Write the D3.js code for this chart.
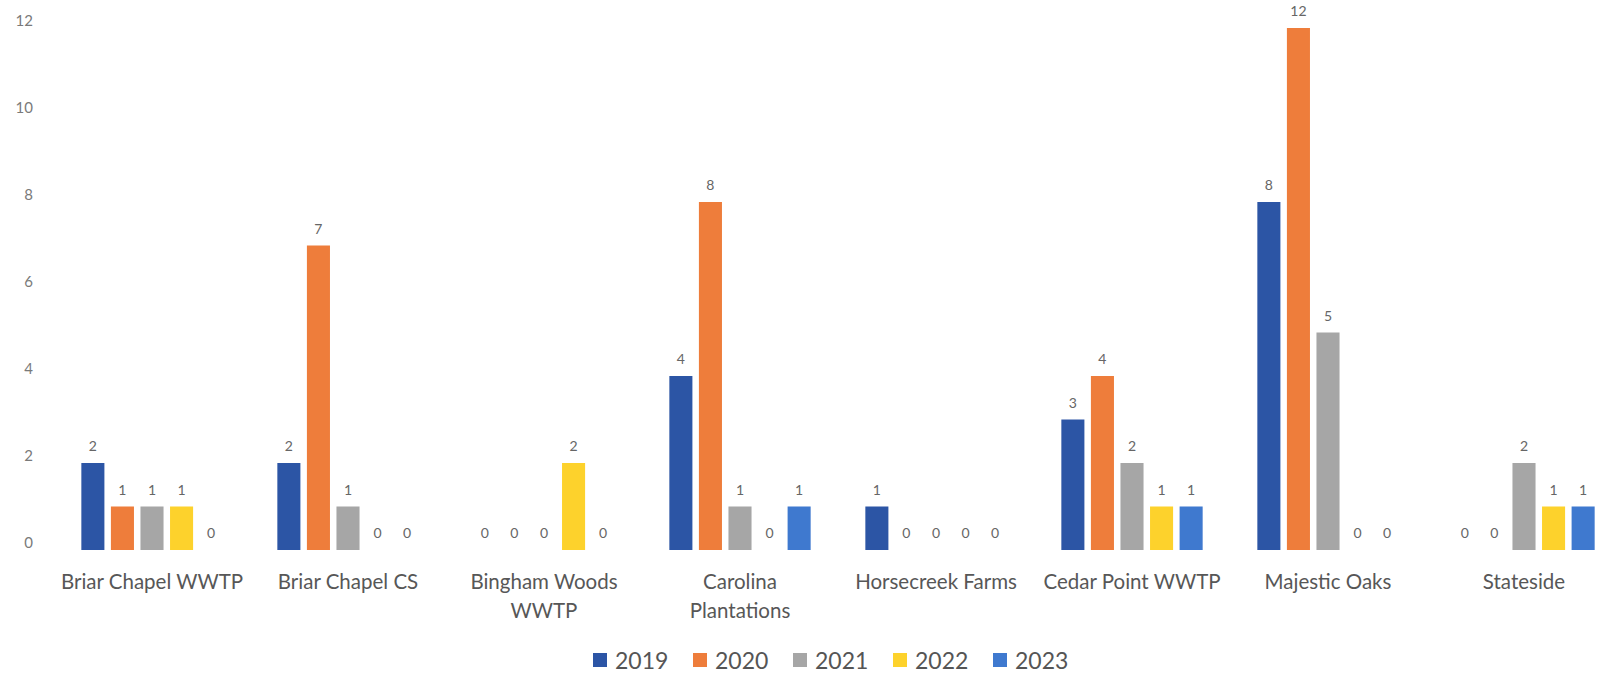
<!DOCTYPE html>
<html>
<head>
<meta charset="utf-8">
<script src="https://cdn.jsdelivr.net/npm/d3@7"></script>
<style>
    body { margin: 0; background: #fff; }
    svg { display: block; font-family: Lato, 'Open Sans', sans-serif; }
</style>
</head>
<body>
<svg id="chart" width="1607" height="679"></svg>
<script>
'use strict';
// Chart values
var categories = ['Briar Chapel WWTP', 'Briar Chapel CS', 'Bingham Woods WWTP', 'Carolina Plantations',
    'Horsecreek Farms', 'Cedar Point WWTP', 'Majestic Oaks', 'Stateside'];
var categoryLines = [['Briar Chapel WWTP'], ['Briar Chapel CS'], ['Bingham Woods', 'WWTP'], ['Carolina', 'Plantations'],
    ['Horsecreek Farms'], ['Cedar Point WWTP'], ['Majestic Oaks'], ['Stateside']];
var years = ['2019', '2020', '2021', '2022', '2023'];
var values2019 = [2, 2, 0, 4, 1, 3, 8, 0];
var values2020 = [1, 7, 0, 8, 0, 4, 12, 0];
var values2021 = [1, 1, 0, 1, 0, 2, 5, 2];
var values2022 = [1, 0, 2, 0, 0, 1, 0, 1];
var values2023 = [0, 0, 0, 1, 0, 1, 0, 1];
var yTicks = [0, 2, 4, 6, 8, 10, 12];

var seriesValues = [values2019, values2020, values2021, values2022, values2023];
var colors = ['#2c55a5', '#ee7d3b', '#a6a6a6', '#fdd22c', '#3f79cf'];

var svg = d3.select('#chart');

// Scales: outer band for sites, inner band for years
var x0 = d3.scaleBand()
    .domain(categories)
    .range([54, 1622])
    .paddingInner(0.279)
    .paddingOuter(0.1395);
var x1 = d3.scaleBand()
    .domain(years)
    .range([0, x0.bandwidth()])
    .paddingInner(0.22);
var y = d3.scaleLinear()
    .domain([0, 12])
    .range([550, 28]);

// Y axis labels only (no line, no gridlines)
var yAxis = d3.axisLeft(y).tickValues(yTicks).tickSize(0).tickPadding(0);
var yg = svg.append('g')
    .attr('transform', 'translate(33,-7)')
    .call(yAxis);
yg.select('.domain').remove();
yg.selectAll('text')
    .style('font-family', "Lato, 'Open Sans', sans-serif")
    .style('font-size', '15px')
    .style('fill', '#7a7a7a');

// Build rows per site
var rows = categories.map(function(c, i) {
    return {
        site: c,
        lines: categoryLines[i],
        bars: years.map(function(yr, j) { return { year: yr, value: seriesValues[j][i], color: colors[j] }; })
    };
});

var groups = svg.selectAll('g.site')
    .data(rows)
    .enter().append('g')
    .attr('class', 'site')
    .attr('transform', function(d) { return 'translate(' + x0(d.site) + ',0)'; });

groups.selectAll('rect')
    .data(function(d) { return d.bars.filter(function(b) { return b.value > 0; }); })
    .enter().append('rect')
    .attr('x', function(b) { return x1(b.year); })
    .attr('y', function(b) { return y(b.value); })
    .attr('width', x1.bandwidth())
    .attr('height', function(b) { return y(0) - y(b.value); })
    .attr('fill', function(b) { return b.color; });

// Data labels above each bar (zeros sit just above the baseline)
groups.selectAll('text.val')
    .data(function(d) { return d.bars; })
    .enter().append('text')
    .attr('class', 'val')
    .attr('x', function(b) { return x1(b.year) + x1.bandwidth() / 2; })
    .attr('y', function(b) { return y(b.value) - 12; })
    .attr('text-anchor', 'middle')
    .style('font-size', '14px')
    .style('fill', '#666')
    .text(function(b) { return b.value; });

// Category labels, wrapped like the original
groups.append('text')
    .attr('class', 'cat')
    .attr('text-anchor', 'middle')
    .style('font-size', '20.5px')
    .style('fill', '#575757')
    .selectAll('tspan')
    .data(function(d) { return d.lines; })
    .enter().append('tspan')
    .attr('x', x0.bandwidth() / 2)
    .attr('y', function(l, i) { return 589 + i * 29; })
    .text(function(l) { return l; });

// Legend
var legend = svg.append('g').attr('class', 'legend');
var items = legend.selectAll('g')
    .data(years)
    .enter().append('g')
    .attr('transform', function(d, i) { return 'translate(' + (593 + i * 100) + ',0)'; });
items.append('rect')
    .attr('y', 653)
    .attr('width', 14)
    .attr('height', 14)
    .attr('fill', function(d, i) { return colors[i]; });
items.append('text')
    .attr('x', 22)
    .attr('y', 669)
    .style('font-size', '23px')
    .style('fill', '#555')
    .text(function(d) { return d; });
</script>
</body>
</html>
